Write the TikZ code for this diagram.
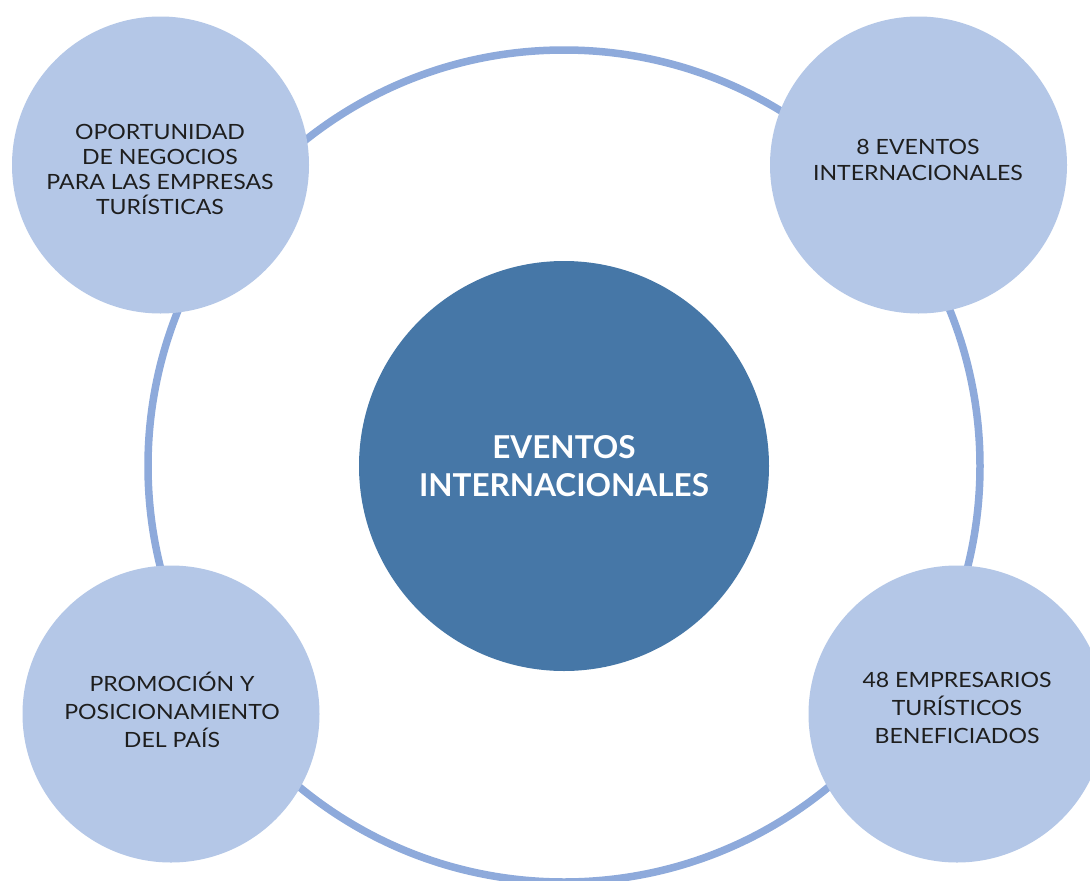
\documentclass[tikz,border=0pt]{standalone}
\usepackage{fontspec}
\setmainfont{Lato}
\newfontfamily\satfont{Lato}[FakeStretch=1.1]
\definecolor{ringcol}{HTML}{8EAADB}
\definecolor{lightcol}{HTML}{B4C7E7}
\definecolor{darkcol}{HTML}{4677A7}
\definecolor{txtcol}{HTML}{1E1E1E}
\begin{document}
\begin{tikzpicture}[x=1pt,y=-1pt,
  ringstyle/.style={circle,draw=ringcol,line width=7.5pt,minimum size=832pt,inner sep=0pt},
  satellite/.style={circle,fill=lightcol,minimum size=297pt,inner sep=0pt},
  sattext/.style={align=center,text=txtcol,inner sep=0pt,font=\satfont\fontsize{21}{#1}\selectfont},
  hub/.style={circle,fill=darkcol,minimum size=410pt,inner sep=0pt,align=center,
    text=white,font=\bfseries\fontsize{31.5}{38}\selectfont}]
\useasboundingbox (0,0) rectangle (1090,881);
\fill[white] (0,0) rectangle (1090,881);
\node[ringstyle] (ring) at (564,466) {};
\node[hub] (hub) at (564,466) {EVENTOS\\INTERNACIONALES};
\node[satellite] (tl) at (160.5,165) {};
\node[satellite] (tr) at (918.5,165) {};
\node[satellite] (bl) at (171,714) {};
\node[satellite] (br) at (957,714) {};
\node[sattext=25] (tltext) at (160,169) {OPORTUNIDAD\\DE NEGOCIOS\\PARA LAS EMPRESAS\\TURÍSTICAS};
\node[sattext=26] (trtext) at (918,160) {8 EVENTOS\\INTERNACIONALES};
\node[sattext=28] (bltext) at (172,710) {PROMOCIÓN Y\\POSICIONAMIENTO\\DEL PAÍS};
\node[sattext=28] (brtext) at (957,708) {48 EMPRESARIOS\\TURÍSTICOS\\BENEFICIADOS};
\end{tikzpicture}
\end{document}
